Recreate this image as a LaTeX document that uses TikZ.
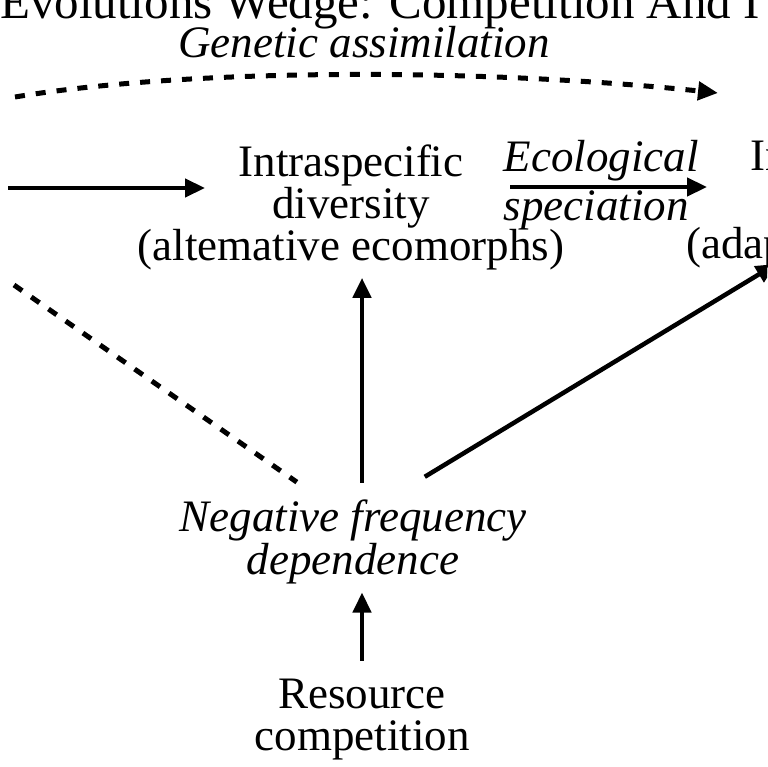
\documentclass[tikz,border=0pt]{standalone}
\usepackage{fontspec}
\setmainfont{Liberation Serif}
\usepackage{tikz}
\usetikzlibrary{arrows.meta,positioning}
\tikzset{
  ecobox/.style={
    align=center,
    inner sep=8pt,
    font=\fontsize{45}{42}\selectfont
  },
  ecolabel/.style={
    inner sep=0pt,
    font=\fontsize{45}{45}\selectfont\itshape
  },
  ecoarrow/.style={
    -{Triangle[length=20pt,width=18pt]},
    line width=4.5pt,
    draw=black
  },
  ecodash/.style={
    line width=5pt,
    dash pattern=on 10pt off 11pt,
    draw=black
  }
}

\begin{document}
\begin{tikzpicture}[x=1pt,y=-1pt]
\useasboundingbox (0,0) rectangle (767,767);
\clip (0,0) rectangle (767,767);
\fill[white] (0,0) rectangle (767,767);
\node[anchor=base west, inner sep=0pt, font=\fontsize{49}{49}\selectfont] (title) at (0,19) {Evolutions Wedge: Competition And I};
\node[ecolabel, anchor=base] (genetic) at (364,58) {Genetic assimilation};
\node[ecobox] (intra) at (351,207) {Intraspecific\\diversity\\(altemative ecomorphs)};
\node[ecobox, font=\fontsize{45}{44}\selectfont, right=106pt of intra, yshift=4pt] (inter) {Interspecific\\diversity\\(adaptive radiation)};
\node[ecobox, font=\fontsize{45}{43}\selectfont\itshape, below=214pt of intra, xshift=2pt] (negfreq) {Negative frequency\\dependence};
\node[ecobox, below=78pt of negfreq, xshift=9pt] (resource) {Resource\\competition};
\node[ecolabel, anchor=base] (ecolog) at (601,172) {Ecological};
\node[ecolabel, anchor=base] (specia) at (596,220) {speciation};

% arrow ends out at the left and on the middle row
\coordinate (plastA) at (15,97);
\coordinate (plastB) at (8,188);
\coordinate (plastC) at (14,285);
\coordinate (gaend) at (718,93);
\coordinate (intrain) at (205,188);
\coordinate (specA) at (510,187);
\coordinate (specB) at (707,187);
\coordinate (radtip) at (776,264);

\draw[ecodash, -{Triangle[length=20pt,width=18pt]}] (plastA) .. controls (190,68) and (480,68) .. (gaend);
\draw[ecoarrow] (plastB) -- (intrain);
\draw[ecoarrow] (specA) -- (specB);
\draw[ecodash, shorten >=17pt] (plastC) -- (negfreq.130);
\draw[ecoarrow, shorten <=9pt] (resource.north |- negfreq.north) -- (resource.north |- intra.south);
\draw[ecoarrow, shorten <=29pt] (negfreq.47) -- (radtip);
\draw[ecoarrow, shorten <=10pt] (resource.north) -- (resource.north |- negfreq.south);
\end{tikzpicture}
\end{document}
